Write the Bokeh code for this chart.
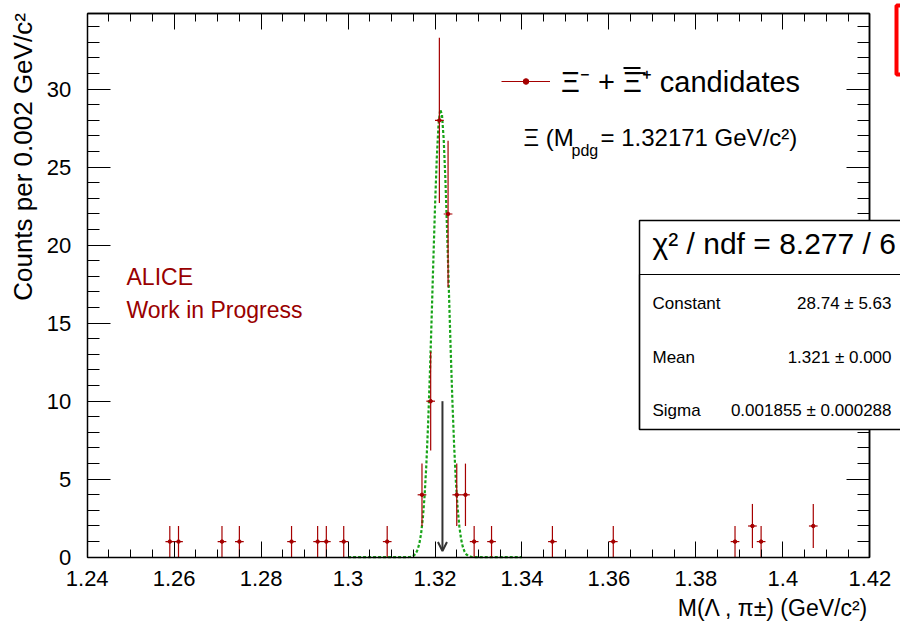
import numpy as np
from bokeh.plotting import figure
from bokeh.models import (Range1d, LinearAxis, FixedTicker, ColumnDataSource, Label,
                          BoxAnnotation, Arrow, OpenHead, Legend, LegendItem)
from bokeh.embed import file_html
from bokeh.resources import INLINE

# ---------------- data ----------------
bin_centers = [1.259, 1.261, 1.271, 1.275, 1.287, 1.293, 1.295, 1.299, 1.309,
               1.317, 1.319, 1.321, 1.323, 1.325, 1.327, 1.329, 1.333,
               1.347, 1.361, 1.389, 1.393, 1.395, 1.407]
counts = [1, 1, 1, 1, 1, 1, 1, 1, 1,
          4, 10, 28, 22, 4, 4, 1, 1,
          1, 1, 1, 2, 1, 2]
bin_width = 0.002

fit_constant = 28.74
fit_mean = 1.3213
fit_sigma = 0.001855
fit_range = [1.30, 1.34]
m_pdg = 1.32171

x_axis_range = [1.24, 1.42]
y_axis_range = [0.0, 34.87]
x_tick_values = [1.24, 1.26, 1.28, 1.3, 1.32, 1.34, 1.36, 1.38, 1.4, 1.42]
x_tick_labels = ["1.24", "1.26", "1.28", "1.3", "1.32", "1.34", "1.36", "1.38", "1.4", "1.42"]
y_tick_values = [0, 5, 10, 15, 20, 25, 30]

legend_label = "Ξ⁻ + Ξ̄⁺ candidates"
stat_names = ["Constant", "Mean", "Sigma"]
stat_values = ["28.74 ± 5.63", "1.321 ± 0.000", "0.001855 ± 0.000288"]
chi2_text = "χ² / ndf = 8.277 / 6"
x_title = "M(Λ , π±) (GeV/c²)"
y_title = "Counts per 0.002 GeV/c²"

# ---------------- layout (pixel geometry of the axes box) ----------------
W, H = 900, 625
FX0, FX1 = 86.7, 869.3     # pixel x of x_axis_range ends
FY0, FY1 = 556.7, 12.7     # pixel y of y_axis_range ends
FONT = "Liberation Sans"
RED = "#a50000"
BASE_SHIFT = 0.41          # empirical baseline correction (in em)

X0, X1 = x_axis_range
Y0, Y1 = y_axis_range
kx = (X1 - X0) / (FX1 - FX0)
ky = (Y1 - Y0) / (FY0 - FY1)


def dx(px):  # pixel -> data x
    return X0 + (px - FX0) * kx


def dy(py):  # pixel -> data y
    return Y0 + (FY0 - py) * ky


p = figure(width=W, height=H,
           x_range=Range1d(dx(0), dx(W)), y_range=Range1d(dy(H), dy(0)),
           output_backend="svg", toolbar_location=None,
           x_axis_location=None, y_axis_location=None,
           min_border=0, min_border_left=0, min_border_right=0,
           min_border_top=0, min_border_bottom=0)
p.grid.visible = False
p.outline_line_color = None
p.background_fill_color = "white"
p.border_fill_color = "white"

x_minor = [round(1.24 + 0.005 * i, 3) for i in range(37)]
y_minor = list(range(0, 35))


def style_ticks(ax, tmaj, tmin):
    ax.axis_line_color = "black"
    ax.axis_line_width = 1.5
    ax.major_tick_in = tmaj
    ax.major_tick_out = 0
    ax.minor_tick_in = tmin
    ax.minor_tick_out = 0
    ax.major_tick_line_color = "black"
    ax.minor_tick_line_color = "black"
    ax.major_tick_line_width = 1
    ax.minor_tick_line_width = 1


# bottom axis with labels
xb = LinearAxis(ticker=FixedTicker(ticks=x_tick_values, minor_ticks=x_minor),
                fixed_location=Y0, bounds=(X0, X1))
style_ticks(xb, 16, 8)
xb.major_label_overrides = {v: l for v, l in zip(x_tick_values, x_tick_labels)}
xb.major_label_text_font = FONT
xb.major_label_text_font_size = "22px"
xb.major_label_text_color = "black"
xb.major_label_standoff = 14
p.add_layout(xb, "below")

# left axis with labels
yl = LinearAxis(ticker=FixedTicker(ticks=y_tick_values, minor_ticks=y_minor),
                fixed_location=X0, bounds=(Y0, Y1))
style_ticks(yl, 23, 12)
yl.major_label_text_font = FONT
yl.major_label_text_font_size = "22px"
yl.major_label_text_color = "black"
yl.major_label_standoff = 16
p.add_layout(yl, "left")

# top axis: ticks only
xt_major = LinearAxis(ticker=FixedTicker(ticks=[], minor_ticks=x_tick_values),
                      fixed_location=Y1, bounds=(X0, X1))
style_ticks(xt_major, 0, 16)
p.add_layout(xt_major, "above")
xt_minor = LinearAxis(ticker=FixedTicker(ticks=[], minor_ticks=x_minor),
                      fixed_location=Y1, bounds=(X0, X1))
style_ticks(xt_minor, 0, 8)
p.add_layout(xt_minor, "above")

# right axis: ticks only
yr_major = LinearAxis(ticker=FixedTicker(ticks=[], minor_ticks=y_tick_values),
                      fixed_location=X1, bounds=(Y0, Y1))
style_ticks(yr_major, 0, 23)
p.add_layout(yr_major, "right")
yr_minor = LinearAxis(ticker=FixedTicker(ticks=[], minor_ticks=y_minor),
                      fixed_location=X1, bounds=(Y0, Y1))
style_ticks(yr_minor, 0, 12)
p.add_layout(yr_minor, "right")

# ---------------- data marks ----------------
xc = np.array(bin_centers)
yc = np.array(counts, dtype=float)
err = np.sqrt(yc)
src = ColumnDataSource(dict(x=xc, y=yc, ylo=yc - err, yhi=yc + err,
                            xlo=xc - bin_width / 2, xhi=xc + bin_width / 2))

# Gaussian fit curve
xf = np.linspace(fit_range[0], fit_range[1], 101)
yf = fit_constant * np.exp(-0.5 * ((xf - fit_mean) / fit_sigma) ** 2)
p.line(xf, yf, line_color="#17a317", line_width=2.2, line_dash="3 2")

vseg = p.segment(x0="x", y0="ylo", x1="x", y1="yhi", source=src, line_color=RED, line_width=1.2)
hseg = p.segment(x0="xlo", y0="y", x1="xhi", y1="y", source=src, line_color=RED, line_width=1.2)
pts = p.scatter(x="x", y="y", source=src, marker="circle", size=3.5, fill_color=RED, line_color=RED)

# PDG mass arrow
p.add_layout(Arrow(end=OpenHead(size=9, line_color="#333333", line_width=2),
                   x_start=m_pdg, y_start=10, x_end=m_pdg, y_end=0.4,
                   line_color="#333333", line_width=2))

# legend
leg = Legend(items=[LegendItem(label=legend_label, renderers=[hseg, pts])],
             location=(501, 525), orientation="vertical",
             glyph_width=49, glyph_height=14, label_standoff=11,
             label_text_font=FONT, label_text_font_size="29px", label_text_color="black",
             padding=0, margin=0, spacing=0,
             border_line_color=None, background_fill_alpha=0)
p.add_layout(leg)
# bar over the anti-Xi
p.add_layout(BoxAnnotation(left=dx(623), right=dx(640), top=dy(66.5), bottom=dy(68.5),
                           fill_color="black", fill_alpha=1.0, line_color=None))


def lab(px, py, text, size, color="black", align="left", angle=0.0):
    if angle == 0.0:
        py = py - BASE_SHIFT * size
    else:
        px = px - BASE_SHIFT * size
    p.add_layout(Label(x=dx(px), y=dy(py), text=text, text_font=FONT,
                       text_font_size=f"{size}px", text_color=color,
                       text_align=align, text_baseline="alphabetic", angle=angle))


# PDG mass text
lab(523, 146.7, "Ξ (M", 24)
lab(571, 157, "pdg", 16)
lab(600, 146.7, "= 1.32171 GeV/c²)", 24)

# ALICE
lab(126, 286, "ALICE", 23, "#990000")
lab(126, 319, "Work in Progress", 23, "#990000")

# axis titles
lab(868, 616.5, x_title, 23, align="right")
lab(33, 12.7, y_title, 26, align="right", angle=np.pi / 2)

# stats box
p.add_layout(BoxAnnotation(left=dx(639), right=dx(930), top=dy(220), bottom=dy(429),
                           fill_color="white", fill_alpha=1.0,
                           line_color="black", line_alpha=1.0, line_width=1.5))
p.add_layout(BoxAnnotation(left=dx(639), right=dx(930), top=dy(274), bottom=dy(429),
                           fill_alpha=0.0, line_color="black", line_alpha=1.0, line_width=1.2))
lab(652, 255, chi2_text, 30)
for name, val, by in zip(stat_names, stat_values, [310, 364, 417]):
    lab(652, by, name, 17)
    lab(891, by, val, 17, align="right")

# partially visible red box at top-right
p.add_layout(BoxAnnotation(left=dx(896), right=dx(960), top=dy(5), bottom=dy(74),
                           fill_alpha=0.0, line_color="red", line_alpha=1.0, line_width=4))

open("out.html", "w").write(file_html(p, INLINE))
